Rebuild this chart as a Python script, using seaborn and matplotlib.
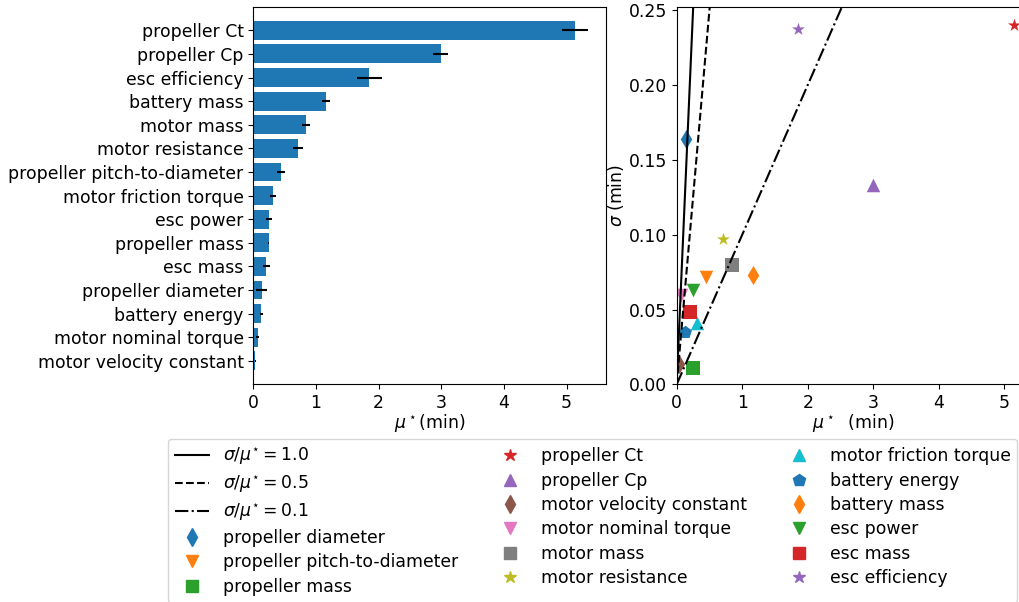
import numpy as np
import matplotlib
matplotlib.use("Agg")
import matplotlib.pyplot as plt
import seaborn as sns
from matplotlib.lines import Line2D

# ---- data ----
params = ["propeller diameter", "propeller pitch-to-diameter", "propeller mass",
          "propeller Ct", "propeller Cp", "motor velocity constant",
          "motor nominal torque", "motor mass", "motor resistance",
          "motor friction torque", "battery energy", "battery mass",
          "esc power", "esc mass", "esc efficiency"]
mu_star = [0.135, 0.44, 0.248, 5.14, 2.99, 0.03, 0.07, 0.84, 0.71,
           0.31, 0.13, 1.16, 0.252, 0.21, 1.85]
mu_star_conf = [0.085, 0.06, 0.01, 0.21, 0.12, 0.01, 0.02, 0.07, 0.08,
                0.05, 0.03, 0.07, 0.05, 0.05, 0.2]
sigma = [0.164, 0.072, 0.011, 0.240, 0.133, 0.014, 0.060, 0.080, 0.097,
         0.041, 0.035, 0.073, 0.063, 0.0486, 0.237]
markers = ["d", "v", "s", "*", "^", "d", "v", "s", "*", "^", "p", "d", "v", "s", "*"]
colors = ["C0", "C1", "C2", "C3", "C4", "C5", "C6", "C7", "C8", "C9",
          "C0", "C1", "C2", "C3", "C4"]
ratios = [1.0, 0.5, 0.1]
ratio_styles = ["-", "--", "-."]

FS = 12.4
plt.rcParams["font.size"] = FS

fig = plt.figure(figsize=(10.2, 6.02), dpi=100)
ax1 = fig.add_axes([0.2483, 0.3613, 0.3458, 0.6276])
ax2 = fig.add_axes([0.6634, 0.3613, 0.3458, 0.6276])

# ---- left: horizontal bars ----
order = np.argsort(mu_star)[::-1]
names_sorted = [params[i] for i in order]
mu_sorted = [mu_star[i] for i in order]
conf_sorted = [mu_star_conf[i] for i in order]
sns.barplot(x=mu_sorted, y=names_sorted, orient="h", color="#1f77b4",
            saturation=1, errorbar=None, width=0.8, ax=ax1)
ax1.errorbar(mu_sorted, np.arange(len(mu_sorted)), xerr=conf_sorted,
             fmt="none", ecolor="k", elinewidth=1.5)
ax1.set_ylim(15.0, -1.0)
ax1.set_xlim(0, 5.63)
ax1.set_xlabel(r"$\mu^\star$(min)", labelpad=0)
ax1.set_ylabel("")
ax1.set_xticks([0, 1, 2, 3, 4, 5])

# ---- right: covariance plot ----
handles = []
labels = []
xmax = 5.38
for r, ls in zip(ratios, ratio_styles):
    (ln,) = ax2.plot([0, xmax], [0, r * xmax], color="k", linestyle=ls, linewidth=1.5)
    handles.append(ln)
    labels.append(r"$\sigma / \mu^{\star} = %.1f$" % r)
for name, m, s, mk, c in zip(params, mu_star, sigma, markers, colors):
    sns.scatterplot(x=[m], y=[s], marker=mk, color=c, s=95, linewidth=0, ax=ax2)
    handles.append(Line2D([], [], linestyle="none", marker=mk, color=c, markersize=9))
    labels.append(name)
ax2.set_xlim(0, xmax)
ax2.set_ylim(0, 0.2522)
ax2.set_xticks([0, 1, 2, 3, 4, 5])
ax2.set_yticks([0, 0.05, 0.10, 0.15, 0.20, 0.25])
ax2.set_xlabel(r"$\mu^\star$  (min)", labelpad=0)
ax2.set_ylabel(r"$\sigma$ (min)", labelpad=2)

fig.legend(handles, labels, ncol=3, loc="upper left",
           bbox_to_anchor=(168 / 1020, 1 - 439 / 602), borderaxespad=0,
           fontsize=FS, columnspacing=2.0, labelspacing=0.37)

fig.savefig("out.png", dpi=100)
